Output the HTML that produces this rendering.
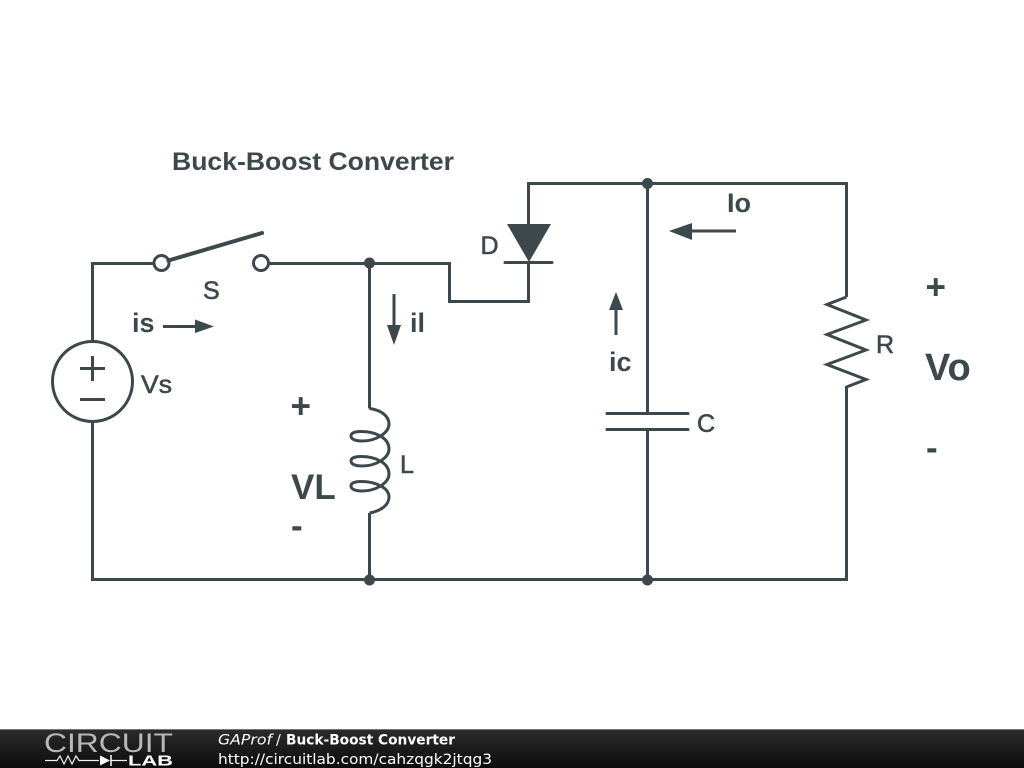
<!DOCTYPE html>
<html><head><meta charset="utf-8"><style>html,body{margin:0;padding:0;background:#fff;width:1024px;height:768px;overflow:hidden}svg{display:block}</style></head><body>
<svg width="1024" height="768" viewBox="0 0 1024 768" xmlns="http://www.w3.org/2000/svg">
<defs><linearGradient id="f" x1="0" y1="0" x2="0" y2="1"><stop offset="0" stop-color="#2c2c2c"/><stop offset="1" stop-color="#0c0c0c"/></linearGradient></defs>
<g fill="none" stroke="#3d484d" stroke-width="3">
<path d="M92.500 341V263.500H153M269 263.500H449.500V301.500H528.500V262M528.500 224V183.500H846.500V297M846.500 386V579.500H92.500V422"/>
<path d="M369.500 263.500V408.500M369.500 513V579.500M647.500 183.500V413M647.500 430V579.500"/>
<circle cx="92.500" cy="381.500" r="40"/>
<path d="M80 368.500H105M92.500 356V381M80 399.500H105"/>
<circle cx="161.500" cy="263" r="7.500"/><circle cx="261" cy="263" r="7.500"/>
<path d="M168.500 260.500L262 233" stroke-width="4" stroke-linecap="round"/>
<path d="M505 262.500H552" stroke-linecap="round"/>
<path d="M607 413.500H688M607 429.500H688" stroke-linecap="round"/>
<path d="M846.500 297L827 304.500L866 320L827 334.500L866 350L827 364.500L866 379.500L846.500 387"/>
<path d="M369.500 408.500C381 410 389 416 389 424C389 433 376 441 362 441C355 441 351 439 351 436C351 433 355 431.500 361 431.500C376 431.500 389 438 389 449C389 458 376 466 362 466C355 466 351 464 351 461C351 458 355 456.500 361 456.500C376 456.500 389 463 389 474C389 483 376 491 362 491C355 491 351 489 351 486C351 483 355 481.500 361 481.500C376 481.500 389 488 389 497C389 505 381 511 369.500 513"/>
<path d="M163 326.500H196M616 335V308M394 294V326M736 231H690"/>
</g>
<g fill="#3d484d">
<path d="M507 224H551L529 262Z"/>
<path d="M195 319.500L214 326.500L195 333Z"/>
<path d="M609 310L616 292L623 310Z"/>
<path d="M387 325L394 345L401 325Z"/>
<path d="M692 223L669 231L692 240Z"/>
<circle cx="369.500" cy="263" r="5.500"/><circle cx="647.500" cy="183.500" r="5.500"/><circle cx="369.500" cy="580" r="5.500"/><circle cx="647.500" cy="580" r="5.500"/>
</g>
<g fill="#3d484d" font-family="'Liberation Sans',sans-serif" font-weight="bold">
<text x="172" y="170" font-size="25" textLength="282" lengthAdjust="spacingAndGlyphs">Buck-Boost Converter</text>
<text x="132" y="332" font-size="27">is</text>
<text x="410" y="332" font-size="27">il</text>
<text x="609" y="371" font-size="27">ic</text>
<text x="727" y="212" font-size="27">Io</text>
<text x="290.500" y="418" font-size="35">+</text>
<text x="291" y="499" font-size="35">VL</text>
<text x="291" y="537.500" font-size="35">-</text>
<text x="925.500" y="299" font-size="35">+</text>
<text x="925" y="380" font-size="38">Vo</text>
<text x="926" y="459.500" font-size="35">-</text>
</g>
<g fill="#3d484d" stroke="#3d484d" stroke-width=".6" font-family="'Liberation Sans',sans-serif" font-size="25">
<text x="203" y="299">S</text>
<text x="141" y="393" textLength="31" lengthAdjust="spacingAndGlyphs">Vs</text>
<text x="400" y="473">L</text>
<text x="480.500" y="254">D</text>
<text x="697" y="432">C</text>
<text x="876" y="353">R</text>
</g>
<rect x="0" y="729" width="1024" height="39" fill="url(#f)"/>
<rect x="0" y="729" width="1024" height="1" fill="#777"/>
<text x="44" y="752" fill="#b8b8b8" font-family="'Liberation Sans',sans-serif" font-size="26.500" textLength="129" lengthAdjust="spacingAndGlyphs">CIRCUIT</text>
<path d="M45 760.500H57L60 756L64 764L68 756L72 764L76 756L79 760.500H99M111 760.500H127" fill="none" stroke="#eee" stroke-width="1.200"/>
<path d="M100 755.500L110 760.500L100 765.500Z" fill="#fff"/><path d="M111 755V766" stroke="#fff" stroke-width="1.500"/>
<text x="128" y="765.500" fill="#fff" font-family="'Liberation Sans',sans-serif" font-size="14.500" font-weight="bold" textLength="45" lengthAdjust="spacingAndGlyphs">LAB</text>
<g font-family="'DejaVu Sans',sans-serif" font-size="14.500" fill="#fff">
<text x="218" y="744.500" font-style="italic" textLength="54" lengthAdjust="spacingAndGlyphs">GAProf</text>
<text x="276" y="744.500">/</text>
<text x="286" y="744.500" font-weight="bold" textLength="169" lengthAdjust="spacingAndGlyphs">Buck-Boost Converter</text>
<text x="218" y="764" textLength="274" lengthAdjust="spacingAndGlyphs">http://circuitlab.com/cahzqgk2jtqg3</text>
</g>
</svg>
</body></html>
